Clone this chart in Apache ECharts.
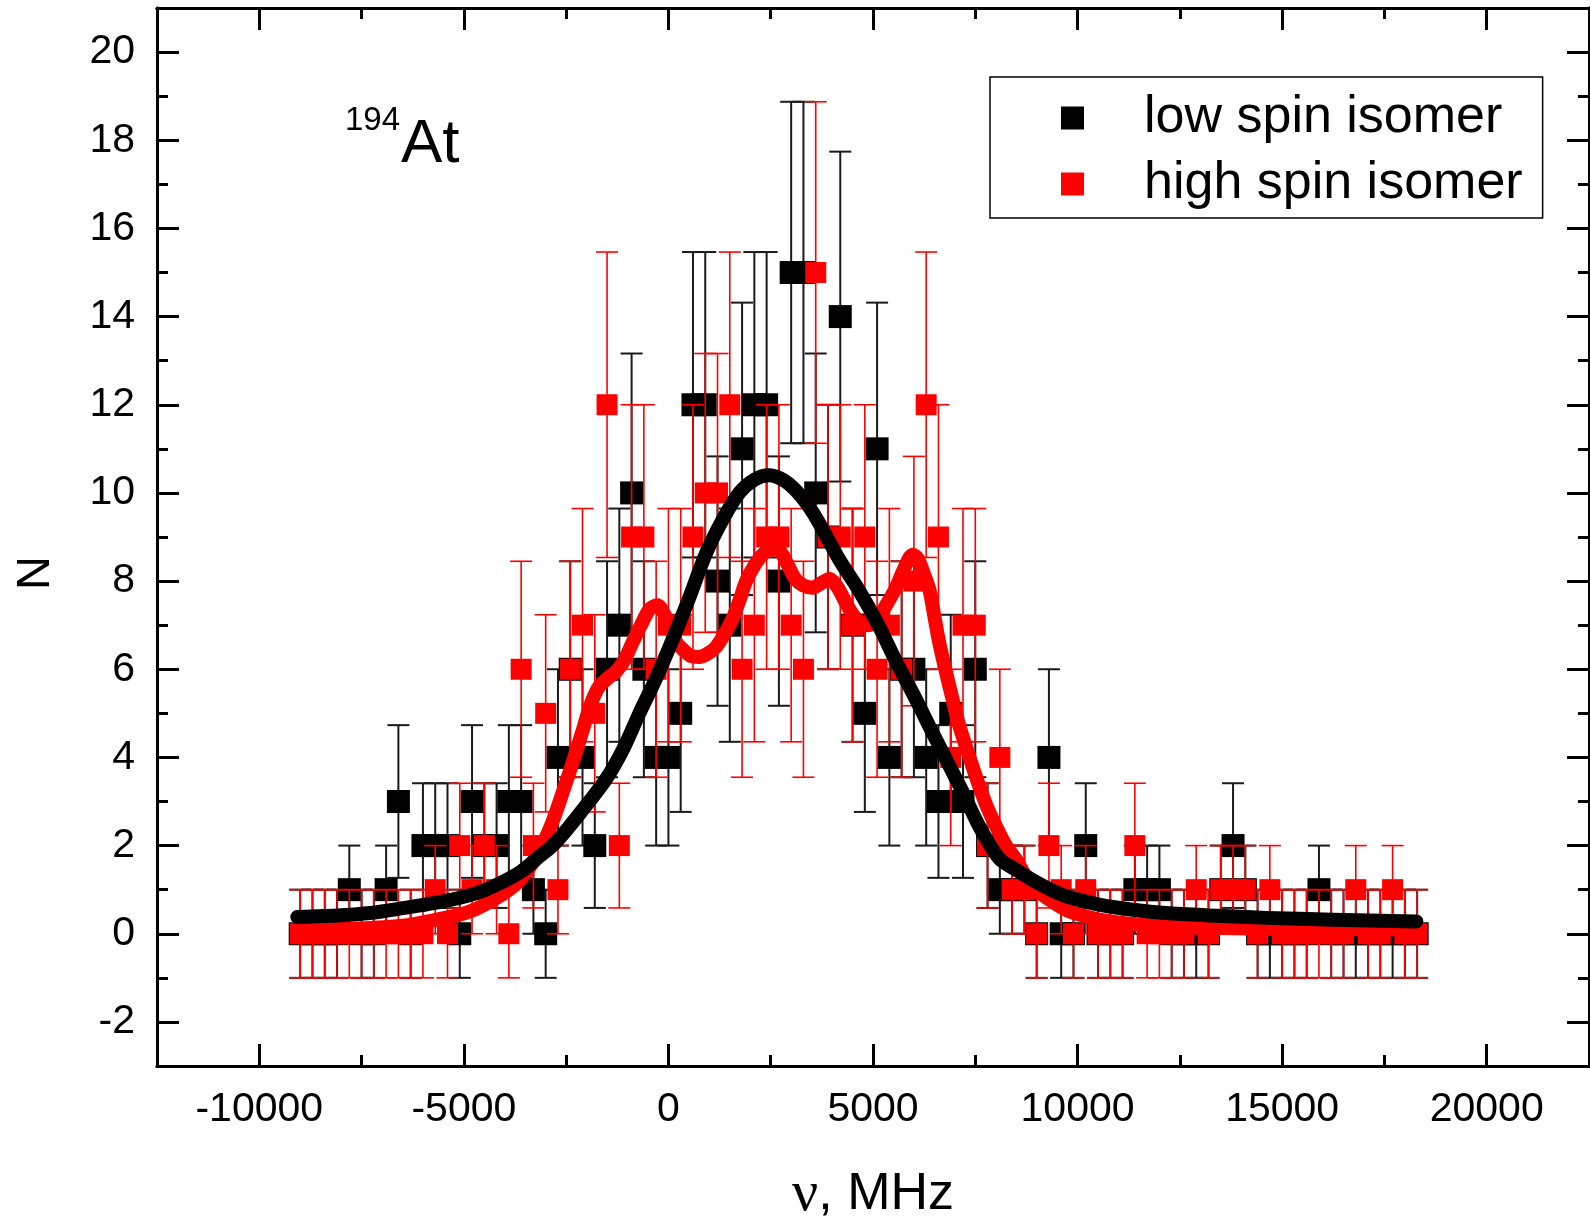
<!DOCTYPE html>
<html><head><meta charset="utf-8">
<script src="https://cdn.jsdelivr.net/npm/echarts@6/dist/echarts.min.js"></script>
<style>html,body{margin:0;padding:0;background:#fff}#c{width:1590px;height:1223px}</style>
</head><body><div id="c"></div>
<script>
const FONT = "'Liberation Sans', Arial, sans-serif";

// frequency of each measured point, MHz
const freq = [-9000,-8700,-8400,-8100,-7800,-7500,-7200,-6900,-6600,-6300,
  -6000,-5700,-5400,-5100,-4800,-4500,-4200,-3900,-3600,-3300,
  -3000,-2700,-2400,-2100,-1800,-1500,-1200,-900,-600,-300,
  0,300,600,900,1200,1500,1800,2100,2400,2700,
  3000,3300,3600,3900,4200,4500,4800,5100,5400,5700,
  6000,6300,6600,6900,7200,7500,7800,8100,8400,8700,
  9000,9300,9600,9900,10200,10500,10800,11100,11400,11700,
  12000,12300,12600,12900,13200,13500,13800,14100,14400,14700,
  15000,15300,15600,15900,16200,16500,16800,17100,17400,17700,
  18000,18300];

// counts N, low spin isomer (black)
const lowSpin = [0,0,0,0,1,0,0,1,3,0,
  2,2,2,0,3,2,2,3,3,1,
  0,4,6,4,2,6,7,10,6,4,
  4,5,12,12,8,7,11,12,12,8,
  15,15,10,9,14,7,5,11,4,6,
  6,4,3,5,3,6,2,1,1,1,
  0,4,0,0,2,0,0,0,1,1,
  1,0,0,0,0,1,2,1,0,0,
  0,0,0,1,0,0,0,0,0,0,
  0,0];

// counts N, high spin isomer (red)
const highSpin = [0,0,0,0,0,0,0,0,0,0,
  0,1,0,2,1,2,1,0,6,2,
  5,1,6,7,5,12,2,9,9,6,
  7,7,9,10,10,12,6,7,9,9,
  7,6,15,9,9,7,9,6,7,6,
  8,12,9,4,7,7,2,4,1,1,
  0,2,1,0,1,0,0,0,2,0,
  0,0,0,1,0,1,1,1,0,1,
  0,0,0,0,0,0,1,0,0,1,
  0,0];

// fitted curves
const lowFitX = [-9070,-8000,-7300,-6500,-5700,-5000,-4460,-3650,-3160,-2830,-2450,-2020,-1530,-1100,-710,-300,100,500,920,1330,1730,2100,2465,2950,3500,4180,4650,5150,5550,5970,6380,6790,7200,7600,8090,8500,8900,9300,9720,10530,11300,12160,13400,14610,16240,18280];
const lowFitY = [0.38,0.42,0.47,0.58,0.70,0.84,1.0,1.38,1.75,2.0,2.4,2.9,3.5,4.2,5.0,5.8,6.67,7.6,8.63,9.4,10.0,10.3,10.4,10.2,9.6,8.48,7.8,6.97,6.2,5.46,4.7,3.95,3.2,2.43,1.7,1.45,1.22,1.02,0.85,0.66,0.55,0.47,0.41,0.36,0.32,0.28];

const highFitX = [-9000,-7500,-6500,-5770,-4870,-4050,-3600,-3200,-2850,-2550,-2300,-2100,-1900,-1700,-1480,-1280,-1080,-880,-670,-470,-270,-100,20,200,350,550,750,950,1160,1370,1570,1750,1900,2100,2300,2500,2700,2900,3100,3300,3520,3730,3930,4140,4340,4500,4700,4900,5150,5350,5560,5770,5970,6100,6250,6380,6500,6620,6780,6950,7100,7270,7430,7600,7800,8000,8250,8500,8700,8900,9300,9720,10100,10530,11300,12160,13500,15000,16500,18300];
const highFitY = [0.1,0.12,0.18,0.3,0.5,0.9,1.25,1.8,2.5,3.3,4.0,4.6,5.2,5.6,5.8,5.95,6.2,6.6,7.0,7.35,7.45,7.25,6.97,6.6,6.45,6.3,6.28,6.35,6.5,6.8,7.15,7.6,8.0,8.35,8.6,8.72,8.7,8.4,8.05,7.9,7.85,7.95,8.05,7.85,7.5,7.25,7.05,7.0,7.2,7.5,7.85,8.3,8.6,8.5,8.15,7.8,7.2,6.6,5.95,5.3,4.75,4.25,3.8,3.34,2.85,2.45,2.0,1.68,1.35,1.07,0.78,0.54,0.42,0.32,0.22,0.17,0.13,0.11,0.1,0.1];

// tick values
const xMajorTicks = [-10000,-5000,0,5000,10000,15000,20000];
const xMinorTicks = [-7500,-2500,2500,7500,12500,17500];
const yMajorTicks = [-2,0,2,4,6,8,10,12,14,16,18,20];
const yMinorTicks = [-1,1,3,5,7,9,11,13,15,17,19];

const X_MIN = -12500, X_MAX = 22500, Y_MIN = -3, Y_MAX = 21;

function poissonErr(n){ return n > 0 ? Math.sqrt(n) : 1; }
function errData(counts){ return freq.map((f,i)=>[f, counts[i]-poissonErr(counts[i]), counts[i]+poissonErr(counts[i])]); }

function errSeries(name, counts, color, width, z){
  return {
    name: name, type: 'custom', z: z, silent: true,
    xAxisIndex: 0, yAxisIndex: 0,
    encode: {x: 0, y: [1, 2]},
    data: errData(counts),
    renderItem: function(params, api){
      const x = api.value(0), lo = api.value(1), hi = api.value(2);
      const pLo = api.coord([x, lo]), pHi = api.coord([x, hi]);
      const hw = 11;
      const st = {stroke: color, lineWidth: width};
      return {type: 'group', children: [
        {type: 'line', shape: {x1: pLo[0], y1: pLo[1], x2: pHi[0], y2: pHi[1]}, style: st},
        {type: 'line', shape: {x1: pLo[0]-hw, y1: pLo[1], x2: pLo[0]+hw, y2: pLo[1]}, style: st},
        {type: 'line', shape: {x1: pHi[0]-hw, y1: pHi[1], x2: pHi[0]+hw, y2: pHi[1]}, style: st}
      ]};
    }
  };
}

function xAxisDef(pos, ticks, len, label){
  return {
    type: 'value', position: pos, min: X_MIN, max: X_MAX, gridIndex: 0,
    axisLine: {show: true, onZero: false, lineStyle: {color: '#000', width: 3}},
    axisTick: {show: true, inside: true, length: len, customValues: ticks, lineStyle: {color: '#000', width: 3}},
    axisLabel: label ? {show: true, customValues: xMajorTicks, fontSize: 41, color: '#000', fontFamily: FONT, margin: 23,
                        formatter: function(v){ return String(v); }} : {show: false},
    splitLine: {show: false}
  };
}
function yAxisDef(pos, ticks, len, label){
  return {
    type: 'value', position: pos, min: Y_MIN, max: Y_MAX, gridIndex: 0,
    axisLine: {show: true, onZero: false, lineStyle: {color: '#000', width: 3}},
    axisTick: {show: true, inside: true, length: len, customValues: ticks, lineStyle: {color: '#000', width: 3}},
    axisLabel: label ? {show: true, customValues: yMajorTicks, fontSize: 41, color: '#000', fontFamily: FONT, margin: 22,
                        formatter: function(v){ return String(v); }} : {show: false},
    splitLine: {show: false}
  };
}

const xAxes = [
  Object.assign(xAxisDef('bottom', xMajorTicks, 22, true), {
    name: '{g|ν}, MHz', nameLocation: 'middle', nameGap: 100,
    nameTextStyle: {fontSize: 52, color: '#000', fontFamily: FONT,
      rich: {g: {fontSize: 58, fontFamily: "'Liberation Serif', 'DejaVu Serif', serif", color: '#000'}}}
  }),
  xAxisDef('top', xMajorTicks, 22, false),
  xAxisDef('bottom', xMinorTicks, 11, false),
  xAxisDef('top', xMinorTicks, 11, false)
];
const yAxes = [
  yAxisDef('left', yMajorTicks, 22, true),
  yAxisDef('right', yMajorTicks, 22, false),
  yAxisDef('left', yMinorTicks, 11, false),
  yAxisDef('right', yMinorTicks, 11, false)
];

const chart = echarts.init(document.getElementById('c'), null, {renderer: 'canvas'});
chart.setOption({
  animation: false,
  backgroundColor: '#fff',
  grid: {left: 157, right: 1, top: 8, bottom: 157, containLabel: false, outerBoundsMode: 'none'},
  xAxis: xAxes,
  yAxis: yAxes,
  legend: {
    data: ['low spin isomer', 'high spin isomer'],
    orient: 'vertical', left: 990, top: 77,
    padding: [15, 20, 8, 71], itemGap: 14,
    itemWidth: 23, itemHeight: 23, icon: 'rect',
    borderColor: '#000', borderWidth: 1.5, backgroundColor: '#fff',
    selectedMode: false,
    textStyle: {fontSize: 52, lineHeight: 50, color: '#000', fontFamily: FONT, padding: [0, 0, 0, 55]}
  },
  graphic: [
    {type: 'text', x: 345, y: 121, z: 100, style: {text: '194', fontSize: 33, fontFamily: FONT, fill: '#000', verticalAlign: 'middle'}},
    {type: 'text', x: 401, y: 145, z: 100, style: {text: 'At', fontSize: 62, fontFamily: FONT, fill: '#000', verticalAlign: 'middle'}},
    {type: 'text', x: 36, y: 573, rotation: Math.PI / 2, z: 100,
     style: {text: 'N', fontSize: 47, fontFamily: FONT, fill: '#000', align: 'center', verticalAlign: 'middle'}}
  ],
  series: [
    errSeries('lowErr', lowSpin, '#1a1a1a', 2, 1),
    {name: 'low spin isomer', type: 'scatter', z: 2, symbol: 'rect', symbolSize: 23,
     itemStyle: {color: '#000', opacity: 1}, data: freq.map((f,i)=>[f, lowSpin[i]])},
    errSeries('highErr', highSpin, '#ff0000', 1.6, 3),
    {name: 'high spin isomer', type: 'scatter', z: 4, symbol: 'rect', symbolSize: 21,
     itemStyle: {color: '#ff0000', opacity: 1}, data: freq.map((f,i)=>[f, highSpin[i]])},
    {name: 'highFit', type: 'line', z: 5, showSymbol: false, smooth: 0.3, silent: true,
     lineStyle: {color: '#ff0000', width: 14, cap: 'round', join: 'round'},
     data: highFitX.map((x,i)=>[x, highFitY[i]])},
    {name: 'lowFit', type: 'line', z: 6, showSymbol: false, smooth: 0.3, silent: true,
     lineStyle: {color: '#000', width: 14, cap: 'round', join: 'round'},
     data: lowFitX.map((x,i)=>[x, lowFitY[i]])}
  ]
});
</script></body></html>
